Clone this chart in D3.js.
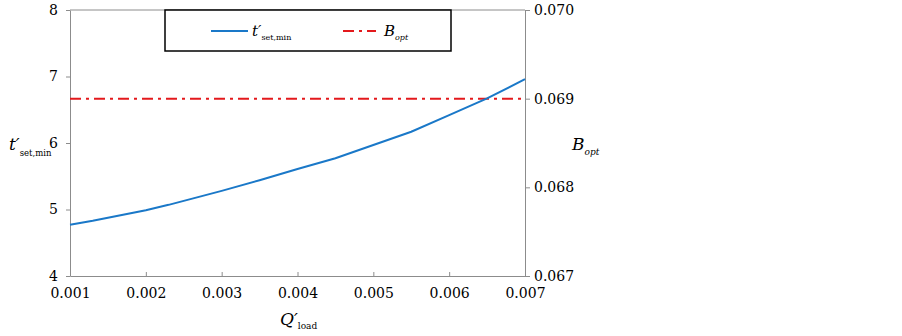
<!DOCTYPE html>
<html>
<head>
<meta charset="utf-8">
<script src="https://cdn.jsdelivr.net/npm/d3@7"></script>
<style>
  body { margin: 0; background: #fff; }
</style>
</head>
<body>
<svg id="chart" width="902" height="336"></svg>
<script>
// data
const qLoad = [0.001, 0.0013, 0.002, 0.0023, 0.0027, 0.003, 0.0035, 0.004, 0.0045, 0.005, 0.0055, 0.006, 0.0065, 0.007]
const tSetMin = [4.77, 4.83, 4.99, 5.07, 5.19, 5.28, 5.44, 5.61, 5.77, 5.97, 6.17, 6.42, 6.67, 6.96]
const bOpt = [0.069, 0.069]
const bOptQ = [0.001, 0.007]
const xTicks = [0.001, 0.002, 0.003, 0.004, 0.005, 0.006, 0.007]
const yTicks = [4, 5, 6, 7, 8]
const y2Ticks = [0.067, 0.068, 0.069, 0.070]

const serif = '"DejaVu Serif", serif'

const margin = {top: 10, right: 377, bottom: 60, left: 70}
const width = 902 - margin.left - margin.right
const height = 336 - margin.top - margin.bottom

const svg = d3.select('#chart').attr('font-family', serif)
const g = svg.append('g')
  .attr('transform', `translate(${margin.left}, ${margin.top})`)

const x = d3.scaleLinear().domain([0.001, 0.007]).range([0, width])
const y = d3.scaleLinear().domain([4, 8]).range([height, 0])
const y2 = d3.scaleLinear().domain([0.067, 0.070]).range([height, 0])

const axisColor = '#8c8c8c'

// top border
g.append('line')
  .attr('x1', 0).attr('x2', width).attr('y1', 0).attr('y2', 0)
  .attr('stroke', axisColor)

const styleAxis = sel => {
  sel.attr('font-family', serif).attr('font-size', 14)
  sel.select('.domain').attr('stroke', axisColor)
  sel.selectAll('.tick line').attr('stroke', axisColor)
  sel.selectAll('.tick text').attr('fill', '#000')
}

g.append('g')
  .attr('transform', `translate(0, ${height})`)
  .call(d3.axisBottom(x).tickValues(xTicks).tickFormat(d3.format('.3f')).tickSizeInner(-4).tickSizeOuter(0).tickPadding(12))
  .call(styleAxis)

g.append('g')
  .call(d3.axisLeft(y).tickValues(yTicks).tickFormat(d3.format('d')).tickSizeInner(4).tickSizeOuter(0).tickPadding(8))
  .call(styleAxis)

g.append('g')
  .attr('transform', `translate(${width}, 0)`)
  .call(d3.axisRight(y2).tickValues(y2Ticks).tickFormat(d3.format('.3f')).tickSizeInner(5).tickSizeOuter(0).tickPadding(4))
  .call(styleAxis)

// B_opt dash-dot line
g.append('path')
  .datum(bOptQ.map((q, i) => [q, bOpt[i]]))
  .attr('fill', 'none')
  .attr('stroke', '#e3191c')
  .attr('stroke-width', 2)
  .attr('stroke-dasharray', '11,5,3,5')
  .attr('d', d3.line().x(d => x(d[0])).y(d => y2(d[1])))

// t'set,min curve
g.append('path')
  .datum(qLoad.map((q, i) => [q, tSetMin[i]]))
  .attr('fill', 'none')
  .attr('stroke', '#1a78c8')
  .attr('stroke-width', 2)
  .attr('d', d3.line().x(d => x(d[0])).y(d => y(d[1])))

// legend
const legend = svg.append('g').attr('transform', 'translate(165, 10)')
legend.append('rect')
  .attr('width', 286).attr('height', 41)
  .attr('fill', '#fff').attr('stroke', '#000').attr('stroke-width', 1.5)
legend.append('line')
  .attr('x1', 46).attr('x2', 83).attr('y1', 21).attr('y2', 21)
  .attr('stroke', '#1a78c8').attr('stroke-width', 2)
const lt = legend.append('text').attr('x', 87).attr('y', 26).attr('font-size', 15)
lt.append('tspan').attr('font-style', 'italic').text('t′')
lt.append('tspan').attr('dy', 4).attr('font-size', 8).text('set,min')
legend.append('line')
  .attr('x1', 178).attr('x2', 211).attr('y1', 21).attr('y2', 21)
  .attr('stroke', '#e3191c').attr('stroke-width', 2)
  .attr('stroke-dasharray', '11,5,3,5')
const lb = legend.append('text').attr('x', 219).attr('y', 26).attr('font-size', 15)
lb.append('tspan').attr('font-style', 'italic').text('B')
lb.append('tspan').attr('dy', 4).attr('font-size', 8).attr('font-style', 'italic').text('opt')

// axis titles
const yl = svg.append('text').attr('x', 9).attr('y', 150).attr('font-size', 17)
yl.append('tspan').attr('font-style', 'italic').text('t′')
yl.append('tspan').attr('dy', 6).attr('font-size', 8.5).text('set,min')

const y2l = svg.append('text').attr('x', 572).attr('y', 150).attr('font-size', 17)
y2l.append('tspan').attr('font-style', 'italic').text('B')
y2l.append('tspan').attr('dy', 5).attr('font-size', 9).attr('font-style', 'italic').text('opt')

const xl = svg.append('text').attr('x', 280).attr('y', 325).attr('font-size', 17)
xl.append('tspan').attr('font-style', 'italic').text('Q′')
xl.append('tspan').attr('dy', 4).attr('font-size', 9).text('load')
</script>
</body>
</html>
